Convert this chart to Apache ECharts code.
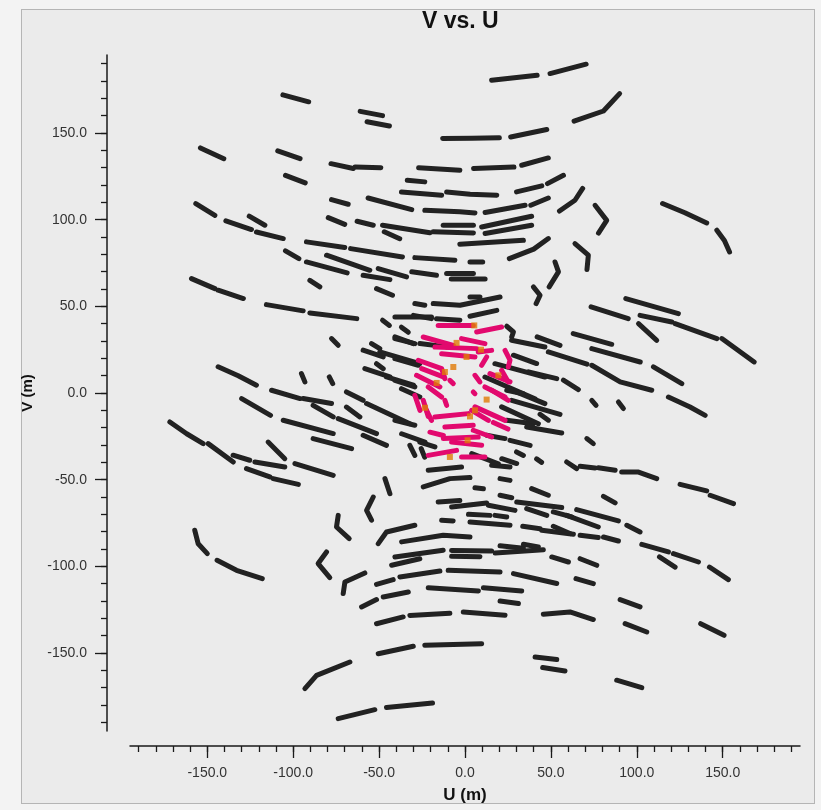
<!DOCTYPE html>
<html>
<head>
<meta charset="utf-8">
<script src="https://cdn.jsdelivr.net/npm/echarts@6/dist/echarts.min.js"></script>
<style>
  html, body { margin: 0; padding: 0; background: #f3f3f3; }
  #frame {
    position: absolute; left: 21px; top: 9px; width: 794px; height: 795px;
    background: #ebebeb; border: 1px solid #b5b5b5; box-sizing: border-box;
  }
  #chart { position: absolute; left: 0; top: 0; width: 821px; height: 810px; }
</style>
</head>
<body>
<div id="frame"></div>
<div id="chart"></div>
<script>
// tracks: [u1, v1, u2, v2, (u3, v3)] in metres
const tracksUpperLeft = [
  [-106,172,-91,168], [-61,162.5,-48,160], [-57,156.5,-44,154],
  [-13,146.8,4,147,20,147.2], [-154,141.4,-140.4,135.2], [-109,139.7,-96,135.2],
  [-78,132.3,-65,129.5], [-64,130.4,-49,130], [-27,130,-3,128.5],
  [-104.5,125.6,-93,121.2], [-33.6,122.7,-23.4,121.8], [-37,116,-13.6,114.1],
  [-10.7,116,3,114.6,18.5,114.1], [-156.7,109.3,-145.6,102.5], [-77.7,111.6,-68,108.9],
  [-56.4,112.5,-31,105.8], [-23.4,105.4,-3,104.5,5.8,103.9], [-139.2,99.3,-124.3,94.3],
  [-125.6,102,-116.5,96.8], [-121.4,92.9,-105.8,89.1], [-79.6,101.2,-70,97.3],
  [-62.8,99.1,-53.4,96.8], [-48,96.8,-20.4,92.4], [-47,93,-38,89],
  [-18.5,93,4.9,92.3], [-12.7,96.8,4.9,96.8], [-92.3,87.2,-70,83.9],
  [-104.5,82,-96.7,77.5], [-92.3,75.6,-68.6,69.3], [-80.6,79.5,-55.4,70.8],
  [-66.6,83.3,-36.4,78.5], [-29.2,78.1,-5.9,76.6], [-50.5,71.8,-34,67],
  [-59.3,67.9,-43.7,65.4], [-31,69.9,-16.6,67.9], [-10.7,68.9,4.9,68.9],
  [-8,65.7,11.7,65.7], [-159.2,66,-145.6,60.2], [-143.7,59.3,-129,54.5],
  [-90.3,65,-84.5,61.2], [-51.5,60.2,-42.2,56.4], [-115.6,51,-94.2,47.4],
  [-90.3,46.2,-63,42.9], [-29.2,51.6,-23.4,50.6], [-18.5,51.6,-2.9,50.6,20.4,55.4],
  [-30,44.8,-19.5,42.9], [-16.6,42.9,-3,42], [-48,42,-44,39],
  [-37,38,-33,35], [-40.8,32.4,-30,28.5], [-26.3,28.5,-10.7,26.6],
  [-77.7,31.4,-73.8,27.5], [-54.4,28.5,-49.6,25.6], [-59.3,24.7,-47.6,20.8],
  [-49.6,23.7,-26.3,17], [-51.5,16.9,-47.6,14], [-58.3,14.1,-43.7,9.3],
  [-45.7,9.3,-30,4.5], [-143.7,15.1,-132,10,-121.4,4.5], [-95.2,11.2,-93.2,6.4],
  [-79,9.3,-77,5.4], [-112.6,1.6,-96,-3.2], [-69,0.6,-59.3,-4.2],
  [-37,2.5,-26.3,-2.3], [-40.8,43.9,-19.5,43.9], [-40.8,31.4,-29.2,28.5],
  [-40.8,19.8,-27.2,16], [-40.8,7.3,-29.2,3.5]
];
const tracksUpperRight = [
  [15.5,180.4,42,183.3], [49.5,184.3,70.5,189.7], [63.5,156.8,80.6,162.7,90,172.7],
  [26.6,147.7,47.6,152], [5,129.5,28.5,130.4], [33,131.4,48.5,135.6],
  [30,116,44.7,119.5], [48,120.8,57.3,125.6], [55,105,64,111.2,68.5,118],
  [11.7,104.1,35,108.3], [38.3,108.3,48.5,112.5], [75.7,108.3,82.5,99.6,77.7,92.3],
  [9.7,95.8,38.8,102], [11.7,92,38.8,96.8], [-3,85.8,34,88.1],
  [25.8,77.5,40,83,48.5,89.1], [115,109.3,128,104,140.7,98.1], [146.6,93.9,151,88,154,81.4],
  [64,86.2,71.8,79.5,71,71.2], [2.9,75.6,10.3,75.6], [52.4,75.6,54.4,69.9,49,61.2],
  [39.8,61.2,43.7,56.4,41.4,51.6], [2.9,55.4,8.7,55.4], [2.9,44.3,18.5,47.7],
  [93.6,54.5,124.2,45.8], [73.4,49.7,95,42.9], [101.9,44.8,120.4,41],
  [122.3,40,146.6,31.4], [149.5,31.4,168.3,17.9], [101,40,111.6,30.4],
  [63,34.3,85.4,28.1], [73.8,25.6,102,17.9], [42,32.4,55.3,27.5],
  [48.5,23.7,71,16.6], [28.2,21.8,41.7,17], [109.7,15.1,126.2,5.4],
  [73.8,16,90.3,6.4,108.7,1.6], [37,12.2,53.4,8.3], [57.3,7.4,66,2],
  [24.3,38.5,28.2,35.2,27.2,32.4], [27.1,30.4,46.5,26.5], [17.4,16.9,46.5,9.2],
  [11.6,9.2,40.7,-3.3], [25.2,2.5,46.5,-6.1]
];
const tracksLowerLeft = [
  [-171.8,-16.7,-162,-23.5,-152.4,-29.2], [-149.5,-29.2,-134.9,-39.8], [-135,-35.9,-125.3,-38.8],
  [-130,-3.2,-113.2,-12.9], [-94.2,-3.2,-77.7,-6.1], [-88.4,-7.1,-76.7,-13.8],
  [-105.8,-15.7,-76.7,-23.4], [-88.4,-26.3,-66,-32.1], [-114.6,-28.3,-104.9,-37.9],
  [-122.3,-39.8,-104.9,-42.7], [-127.2,-43.6,-113.6,-48.4], [-111.7,-49.4,-97,-52.7],
  [-99,-40.7,-76.7,-47.5], [-69,-8.1,-61.2,-13.8], [-73.8,-14.8,-51.5,-23.4],
  [-57.3,-6.1,-32.1,-17.7], [-59.3,-24.4,-45.7,-30.2], [-46.6,-49.4,-43.7,-58.1],
  [-53.4,-60,-57.3,-67.7,-54.4,-73.4], [-73.8,-70.6,-74.8,-77.3,-67.4,-84],
  [-157.3,-79.2,-155.3,-87,-150,-92.7], [-144.3,-96.5,-133,-102.3,-118,-107.1],
  [-80.6,-91.7,-85.5,-98.4,-78.7,-106.5], [-58.3,-103.8,-69.9,-109,-70.9,-115.7],
  [-29.2,-76.3,-45.7,-80.2,-50.5,-86.9], [-36.9,-85.9,-12.7,-82.1,2.9,-83.1],
  [-40.8,-94.6,-12.7,-90.7], [-42.7,-99.4,-26.3,-95.6], [-7.8,-90.8,15.5,-91.1],
  [-7.8,-94.2,8.7,-94.5], [-51.5,-110.4,-41.8,-107.7], [-37.9,-106.1,-14.6,-102.7],
  [-9.8,-102.3,20.4,-103.3], [-60.2,-123.4,-51.5,-119.2], [-47.6,-117.7,-33,-114.8],
  [-21.4,-112.3,7.8,-114.2], [-51.5,-133.1,-36,-129.2], [-32.1,-128.3,-8.8,-127],
  [-1,-126.3,23.3,-128.2], [-50.5,-150.4,-30.1,-146.1], [-23.4,-145.6,9.7,-144.6],
  [-93.2,-170.6,-86.4,-162.9,-67,-155.2], [-73.8,-187.9,-52.5,-182.7], [-45.7,-181.5,-18.9,-178.8],
  [-21.4,-44.6,-2,-42.7], [-24.3,-54.2,-8.8,-49.4,2.9,-48.8], [-15.6,-62.9,-3,-62],
  [-7.8,-65.8,12.6,-63.4], [-13.6,-73.4,-6.9,-73.8], [-32.1,-30.2,-29.2,-36],
  [-25.5,-32,-23.5,-37], [-40.8,-15.8,-29.2,-18.6], [-36.9,-23.5,-23.3,-28.3],
  [-26.3,-28.3,-17.5,-31.1]
];
const tracksLowerRight = [
  [118.4,-2.3,131,-8.1,139.8,-12.9], [73.8,-4.2,76.3,-7.1], [89.3,-5.2,92.2,-9],
  [24.3,1.6,34,-0.4], [27.2,-4.2,55.3,-12.3], [24.3,-15.7,39.8,-17.7],
  [35.9,-19.6,56.3,-23.1], [43.7,-12.3,48.5,-15.7], [12.6,-24.4,23.3,-26.3],
  [26.2,-27.3,37.9,-30.2], [70.9,-26.3,74.7,-29.2], [30,-34,34,-36],
  [41.7,-38,44.6,-40], [21.4,-37.9,30.1,-40.7], [15.5,-41.7,26.2,-42.7],
  [59.2,-39.8,65,-43.6], [67,-42.3,75.7,-43.3], [77.6,-43.1,87.4,-44.6],
  [91.2,-45.6,101,-45.6,111.6,-49.4], [125.2,-52.7,140.7,-56.5], [142.7,-59,156.3,-63.8],
  [80.6,-59.6,87.4,-63.4], [38.8,-55.2,48.5,-59], [20.4,-49.4,26.2,-50.4],
  [5.8,-54.7,10.7,-55.3], [20.4,-59,27.2,-60.4], [13.6,-64.8,29.1,-67.7],
  [30.1,-62.9,56.3,-66.1], [35.9,-66.7,47.6,-70.6], [51.4,-68.6,62.1,-71.5],
  [65,-67.3,89.3,-73.8], [59.2,-70.6,77.6,-77.3], [2,-70,14.6,-70.6],
  [17.5,-70.6,24.3,-71.5], [2.9,-74.4,26.2,-76.3], [33.6,-76.9,43.7,-78.3],
  [44.7,-79.2,63.1,-81.5], [51.4,-76.9,61.1,-81.1], [67,-82.1,77.6,-83.4],
  [80.6,-83.1,89.3,-85.4], [94.2,-76.3,101.9,-80.2], [102.9,-87.3,118.4,-91.7],
  [121.3,-92.7,135.9,-97.5], [113.2,-94.6,122.3,-100.4], [142.3,-100.4,153.3,-107.7],
  [17.5,-92.3,45.6,-90.4], [20.4,-88.1,34,-89.6], [34,-87.3,42.7,-88.8],
  [50.5,-94.6,60.2,-97.5], [67,-95.6,76.7,-99.4], [28.2,-104.2,53.4,-109.9],
  [64.6,-107.1,74.7,-110], [10.7,-112.3,33,-114.2], [20.4,-120,31.1,-121.5],
  [90.3,-119.2,101.9,-123.4], [45.6,-127.7,61.1,-126.3,74.7,-130.7], [93.2,-133.1,105.8,-137.9],
  [137.2,-133.1,150.8,-139.8], [40.8,-152.3,53.4,-153.8], [45.2,-158.4,58.2,-160.4],
  [88.3,-165.7,102.9,-170], [21.3,-8,42.7,-17.7], [3.9,-35,19.4,-40.8]
];
const pinkTracks = [
  [-15.6,39,4.8,39], [6.8,35.2,21.3,38.1], [-24.3,32.3,-6.8,27.5],
  [-2,31.4,11.6,28.5], [-13.6,22.7,5.8,20.8], [7.7,23.7,15.5,24.6],
  [-27.2,18.9,-13.6,14.1,-11.7,8.3], [-28.2,10.2,-14.6,3.5], [-29.2,-1.3,-26.2,-10],
  [-21.4,3.5,-13.6,-2.3], [-22.4,-10,-19.5,-15.8], [-11.7,-4.2,-10.7,-7.1],
  [-17.5,-13.8,1.9,-11.9], [-11.7,-19.6,4.8,-18.6], [-12.6,-26.3,7.7,-25.4],
  [4.8,-21.5,15.5,-25.4], [-21.4,-36,-4.9,-33.1], [-2,-36.9,11.6,-36.9],
  [5.8,-8,23.3,-15.8], [11.6,3.5,23.3,-2.3], [14.5,11.2,26.2,6.4],
  [23.3,24.6,26.2,18.9,25.2,15], [21.3,13.1,25.2,6.4], [9.7,16,12.6,20.8],
  [5.8,10.2,8.7,6.4], [-8.8,7.3,-6.8,5.4], [4.8,0.6,5.8,-0.4], [3.9,-10,13.6,-15.8],
  [-17.5,26.5,6.8,25.6], [-25.2,14.1,-12.6,9.3], [15.5,1.6,25.2,-4.2],
  [-24.3,-4.2,-21.4,-13.5], [-7.8,-28.3,9.7,-30.2], [-20.4,-22.6,-12.6,-24.5],
  [16.5,-17,25,-20.8]
];
const orangePoints = [
  [5.4,39], [-4.9,28.9], [-6.8,15], [-16.5,5.8], [-23.3,-8.5], [2.9,-13.5],
  [12.6,-3.8], [19.4,10.2], [1.5,-27.3], [-8.8,-36.9], [0.9,20.8], [9.3,25],
  [-11.7,12.1], [5.8,-10]
];
const labelTicks = [-150, -100, -50, 0, 50, 100, 150];
const minorTicks = [-190,-180,-170,-160,-150,-140,-130,-120,-110,-100,-90,-80,-70,-60,-50,-40,-30,-20,-10,
  0,10,20,30,40,50,60,70,80,90,100,110,120,130,140,150,160,170,180,190];

const toLines = tracks => tracks.map(t => {
  const coords = [];
  for (let i = 0; i < t.length; i += 2) coords.push([t[i], t[i + 1]]);
  return { coords: coords };
});

const chart = echarts.init(document.getElementById('chart'));

const mainAxis = (name, offset, nameGap, nameSize) => ({
  type: 'value', min: -195, max: 195, offset: offset,
  name: name, nameLocation: 'middle', nameGap: nameGap,
  nameTextStyle: { fontSize: nameSize, fontWeight: 'bold', color: '#111', fontFamily: 'Liberation Sans' },
  axisLine: { show: true, onZero: false, lineStyle: { color: '#1a1a1a', width: 1.5 } },
  axisTick: { show: true, length: 12, customValues: labelTicks, lineStyle: { color: '#1a1a1a', width: 1.3 } },
  axisLabel: { customValues: labelTicks, margin: 20, fontSize: 14, color: '#333',
    fontFamily: 'Liberation Sans', formatter: v => v.toFixed(1) },
  splitLine: { show: false }
});
const minorAxis = (pos, offset) => ({
  type: 'value', min: -195, max: 195, position: pos, offset: offset,
  axisLine: { show: false, onZero: false },
  axisTick: { show: true, length: 6, customValues: minorTicks, lineStyle: { color: '#1a1a1a', width: 1.3 } },
  axisLabel: { show: false },
  splitLine: { show: false }
});

chart.setOption({
  backgroundColor: 'transparent',
  animation: false,
  graphic: [{
    type: 'text', left: 462 - 40, top: 10,
    style: { text: 'V vs. U', font: 'bold 23px "Liberation Sans"', fill: '#111' }
  }],
  grid: { left: 130, right: 21, top: 55, bottom: 79 },
  xAxis: [
    Object.assign(mainAxis('U (m)', 15, 41, 17), { position: 'bottom' }),
    minorAxis('bottom', 15)
  ],
  yAxis: [
    Object.assign(mainAxis('V (m)', 23, 72, 15), { position: 'left' }),
    minorAxis('left', 23)
  ],
  series: [
    {
      type: 'lines', coordinateSystem: 'cartesian2d', polyline: true,
      data: toLines(tracksUpperLeft.concat(tracksUpperRight, tracksLowerLeft, tracksLowerRight)),
      lineStyle: { color: '#222', width: 5, opacity: 1, cap: 'round', join: 'round' },
      silent: true, z: 2
    },
    {
      type: 'lines', coordinateSystem: 'cartesian2d', polyline: true,
      data: toLines(pinkTracks),
      lineStyle: { color: '#e2096e', width: 5, opacity: 1, cap: 'round', join: 'round' },
      silent: true, z: 3
    },
    {
      type: 'scatter', data: orangePoints, symbol: 'rect', symbolSize: 6,
      itemStyle: { color: '#e17a06' }, silent: true, z: 4
    }
  ]
});
</script>
</body>
</html>
